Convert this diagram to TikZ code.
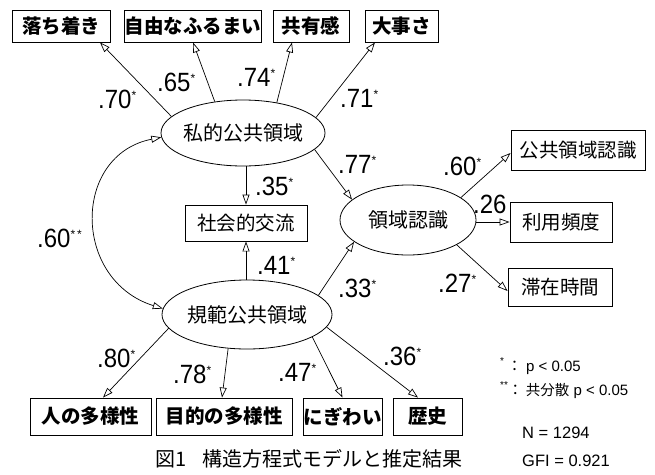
\documentclass[tikz,border=0pt]{standalone}
\usepackage{fontspec}
\setmainfont{Liberation Sans}
\newfontfamily\jp{Noto Sans CJK JP}
\usetikzlibrary{arrows.meta,calc,shapes.geometric}
\newcommand\stt{\raisebox{9pt}{\fontsize{12}{12}\selectfont *}}
\newcommand\lst{\raisebox{7pt}{\fontsize{10}{10}\selectfont *}}
\newcommand\etext[1]{\makebox[0pt]{\raisebox{-5pt}{#1}}}
\newcommand\cf[1]{\scalebox{1}[1.1]{#1}}
\begin{document}
\begin{tikzpicture}[x=1pt,y=-1pt,
  box/.style={draw, line width=0.9pt, inner sep=0pt, font=\jp\fontsize{19.5}{20}\selectfont},
  bbox/.style={box, font=\jp\bfseries\fontsize{19.5}{20}\selectfont},
  lat/.style={draw, ellipse, line width=0.8pt, inner sep=0pt, font=\jp\fontsize{20}{20}\selectfont},
  arr/.style={line width=0.7pt, -{Triangle[open,length=10pt,width=7pt]}},
  cov/.style={line width=0.7pt, {Triangle[open,length=10pt,width=7pt]}-{Triangle[open,length=10pt,width=7pt]}},
  coef/.style={anchor=base west, inner sep=0pt, font=\fontsize{24}{24}\selectfont},
  leg/.style={anchor=base west, inner sep=0pt, font=\fontsize{15}{15}\selectfont},
]
\useasboundingbox (0,0) rectangle (655,474);

% top indicator boxes
\node[bbox, minimum width=98, minimum height=32] (b1) at (61,26) {落ち着き};
\node[bbox, minimum width=130, minimum height=32] (b2) at (193,26) {自由なふるまい};
\node[bbox, minimum width=76, minimum height=32] (b3) at (311,26) {共有感};
\node[bbox, minimum width=73, minimum height=32] (b4) at (401.5,26) {大事さ};

% latent variables
\node[lat, minimum width=164, minimum height=66] (P) at (243,133) {\etext{私的公共領域}};
\node[lat, minimum width=170, minimum height=69] (N) at (247,314.5) {\etext{規範公共領域}};
\node[lat, minimum width=136, minimum height=70] (R) at (408,220) {\etext{領域認識}};

% middle box
\node[box, minimum width=122, minimum height=36] (S) at (246,223) {社会的交流};

% right boxes
\node[box, minimum width=134, minimum height=40] (r1) at (578,150) {公共領域認識};
\node[box, minimum width=102, minimum height=40] (r2) at (561,222) {利用頻度};
\node[box, minimum width=104, minimum height=38] (r3) at (560,287) {滞在時間};

% bottom boxes
\node[bbox, minimum width=121, minimum height=37] (d1) at (90.5,416.5) {人の多様性};
\node[bbox, minimum width=136, minimum height=37] (d2) at (224,416.5) {目的の多様性};
\node[bbox, minimum width=79, minimum height=37] (d3) at (342.5,416.5) {にぎわい};
\node[bbox, minimum width=69, minimum height=37] (d4) at (427.5,416.5) {歴史};

% arrows from P
\draw[arr] (P.167.6) -- ($(b1.south)+(39,0)$);
\draw[arr] (P.132) -- (b2.south);
\draw[arr] (P.42.4) -- ($(b3.south)+(-19,0)$);
\draw[arr] (P.12.2) -- ($(b4.south)+(-26.5,0)$);
\draw[arr] (S.north |- P.south) -- (S.north);
\draw[arr] (S.south |- N.north) -- (S.south);
\draw[arr] (P.-13.7) -- (R.160);
\draw[arr] (N.15.4) -- (R.202);

% arrows from R
\draw[arr] (R.23.7) -- ($(r1.west)+(0,3)$);
\draw[arr] (R.east |- r2.west) -- (r2.west);
\draw[arr] (R.333.4) -- ($(r3.west)+(0,4)$);

% arrows from N
\draw[arr] (N.190.4) -- ($(d1.north)+(12.5,0)$);
\draw[arr] (N.241) -- ($(d2.north)+(-2,0)$);
\draw[arr] (N.-19.9) -- (d3.north);
\draw[arr] (N.-9.5) -- ($(d4.north)+(-9.5,0)$);

% covariance
\draw[cov] (P.183) .. controls (72,155) and (72,280) .. (N.176);

% coefficients
\node[coef] (c1) at (98,108) {\cf{.70}\stt};
\node[coef] (c2) at (157,91) {\cf{.65}\stt};
\node[coef] (c3) at (237,86) {\cf{.74}\stt};
\node[coef] (c4) at (340,107) {\cf{.71}\stt};
\node[coef] (c5) at (255,195) {\cf{.35}\stt};
\node[coef] (c6) at (257,274) {\cf{.41}\stt};
\node[coef] (c7) at (37,247) {\cf{.60}\stt\hspace{2pt}\stt};
\node[coef] (c8) at (338,173) {\cf{.77}\stt};
\node[coef] (c9) at (443,175) {\cf{.60}\stt};
\node[coef] (c10) at (473,213) {\cf{.26}};
\node[coef] (c11) at (438,292) {\cf{.27}\stt};
\node[coef] (c12) at (338,297) {\cf{.33}\stt};
\node[coef] (c13) at (97,367) {\cf{.80}\stt};
\node[coef] (c14) at (173,383) {\cf{.78}\stt};
\node[coef] (c15) at (278,381) {\cf{.47}\stt};
\node[coef] (c16) at (383,365) {\cf{.36}\stt};

% legend
\node[leg] (l1) at (500,371) {\lst\hspace{3pt}{\jp\fontsize{15}{15}\selectfont ：}\hspace{4pt}p < 0.05};
\node[leg] (l2) at (500,395) {\lst\lst{\jp\fontsize{15}{15}\selectfont ：}\hspace{3pt}{\jp\fontsize{14.5}{15}\selectfont 共分散} p < 0.05};
\node[leg, font=\fontsize{16.5}{16.5}\selectfont] (l3) at (522,438) {N = 1294};
\node[leg, font=\fontsize{16.5}{16.5}\selectfont] (l4) at (522,466) {GFI = 0.921};

% caption
\node[anchor=base west, inner sep=0pt, font=\jp\fontsize{20}{20}\selectfont] (cap) at (155,466) {図1\hspace{16pt}構造方程式モデルと推定結果};
\end{tikzpicture}
\end{document}
